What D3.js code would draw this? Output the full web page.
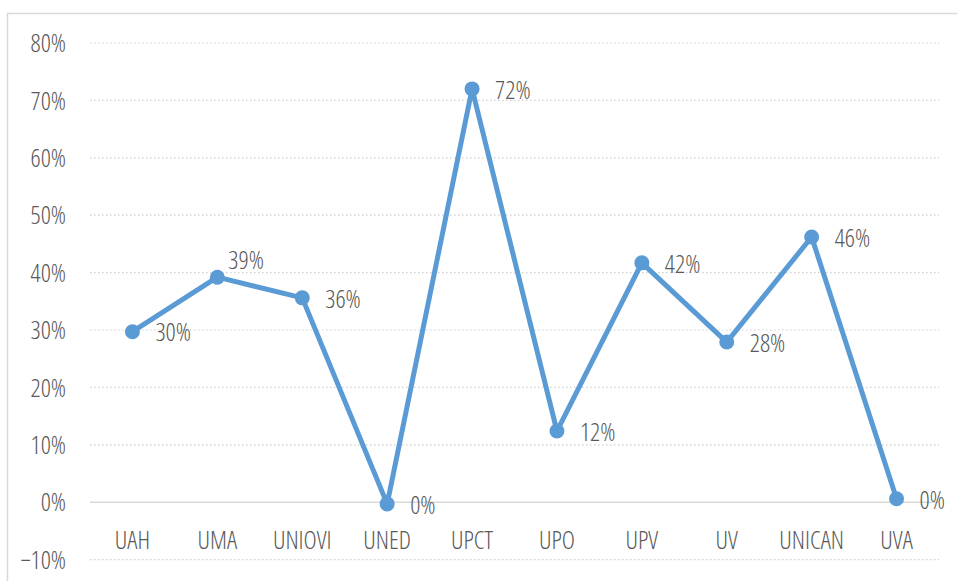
<!DOCTYPE html>
<html>
<head>
<meta charset="utf-8">
<script src="https://cdn.jsdelivr.net/npm/d3@7"></script>
<style>
  body { margin: 0; background: #fff; }
  text { font-family: "Open Sans", "Liberation Sans Narrow", sans-serif; font-stretch: condensed; font-weight: 300; fill: #595959; }
</style>
</head>
<body>
<div id="chart"></div>
<script>
// --- data ---
const categories = ["UAH", "UMA", "UNIOVI", "UNED", "UPCT", "UPO", "UPV", "UV", "UNICAN", "UVA"];
const values = [0.297, 0.392, 0.356, -0.003, 0.72, 0.124, 0.417, 0.279, 0.462, 0.006];
const labels = ["30%", "39%", "36%", "0%", "72%", "12%", "42%", "28%", "46%", "0%"];
const labelSide = ["right", "above", "right", "right", "right", "right", "right", "right", "right", "right"];
const yTicks = [-0.1, 0, 0.1, 0.2, 0.3, 0.4, 0.5, 0.6, 0.7, 0.8];

const width = 957, height = 581;
const plot = { left: 90, right: 939, top: 43, bottom: 559.6 };
const fontSize = 25;

const svg = d3.select("#chart").append("svg")
  .attr("width", width)
  .attr("height", height);

// outer frame (only left + top visible)
svg.append("rect")
  .attr("x", 7.5).attr("y", 13.5)
  .attr("width", 1000).attr("height", 1000)
  .attr("fill", "none")
  .attr("stroke", "#d9d9d9")
  .attr("stroke-width", 1.5);

const x = d3.scaleBand().domain(categories).range([plot.left, plot.right]);
const y = d3.scaleLinear().domain([-0.1, 0.8]).range([plot.bottom, plot.top]);

// gridlines
svg.append("g").selectAll("line")
  .data(yTicks)
  .join("line")
  .attr("x1", plot.left).attr("x2", plot.right)
  .attr("y1", d => y(d)).attr("y2", d => y(d))
  .attr("stroke", d => d === 0 ? "#d9d9d9" : "#d0d0d0")
  .attr("stroke-width", d => d === 0 ? 1.5 : 1.2)
  .attr("stroke-dasharray", d => d === 0 ? null : "1.5,2.5");

// y axis labels
const yAxis = svg.append("g")
  .attr("transform", `translate(${plot.left - 24},0)`)
  .call(d3.axisLeft(y).tickValues(yTicks).tickFormat(d3.format(".0%")).tickSize(0).tickPadding(0));
yAxis.select(".domain").remove();
yAxis.selectAll("text")
  .attr("font-size", fontSize)
  .attr("dy", "0.35em")
  .style("font-family", null);

// category labels
const xAxis = svg.append("g")
  .attr("transform", `translate(0,${y(0)})`)
  .call(d3.axisBottom(x).tickSize(0).tickPadding(47));
xAxis.select(".domain").remove();
xAxis.selectAll("text")
  .attr("font-size", fontSize)
  .attr("dy", 0)
  .style("font-family", null);

// line
const line = d3.line()
  .x((d, i) => x(categories[i]) + x.bandwidth() / 2)
  .y(d => y(d));

svg.append("path")
  .datum(values)
  .attr("d", line)
  .attr("fill", "none")
  .attr("stroke", "#5b9bd5")
  .attr("stroke-width", 5)
  .attr("stroke-linejoin", "round");

svg.append("g").selectAll("circle")
  .data(values)
  .join("circle")
  .attr("cx", (d, i) => x(categories[i]) + x.bandwidth() / 2)
  .attr("cy", d => y(d))
  .attr("r", 7.5)
  .attr("fill", "#5b9bd5");

// data labels
svg.append("g").selectAll("text")
  .data(values)
  .join("text")
  .attr("x", (d, i) => x(categories[i]) + x.bandwidth() / 2 + (labelSide[i] === "above" ? 11 : 23))
  .attr("y", (d, i) => y(d) + (labelSide[i] === "above" ? -17 : 1))
  .attr("dy", "0.35em")
  .attr("font-size", fontSize)
  .text((d, i) => labels[i]);
</script>
</body>
</html>
